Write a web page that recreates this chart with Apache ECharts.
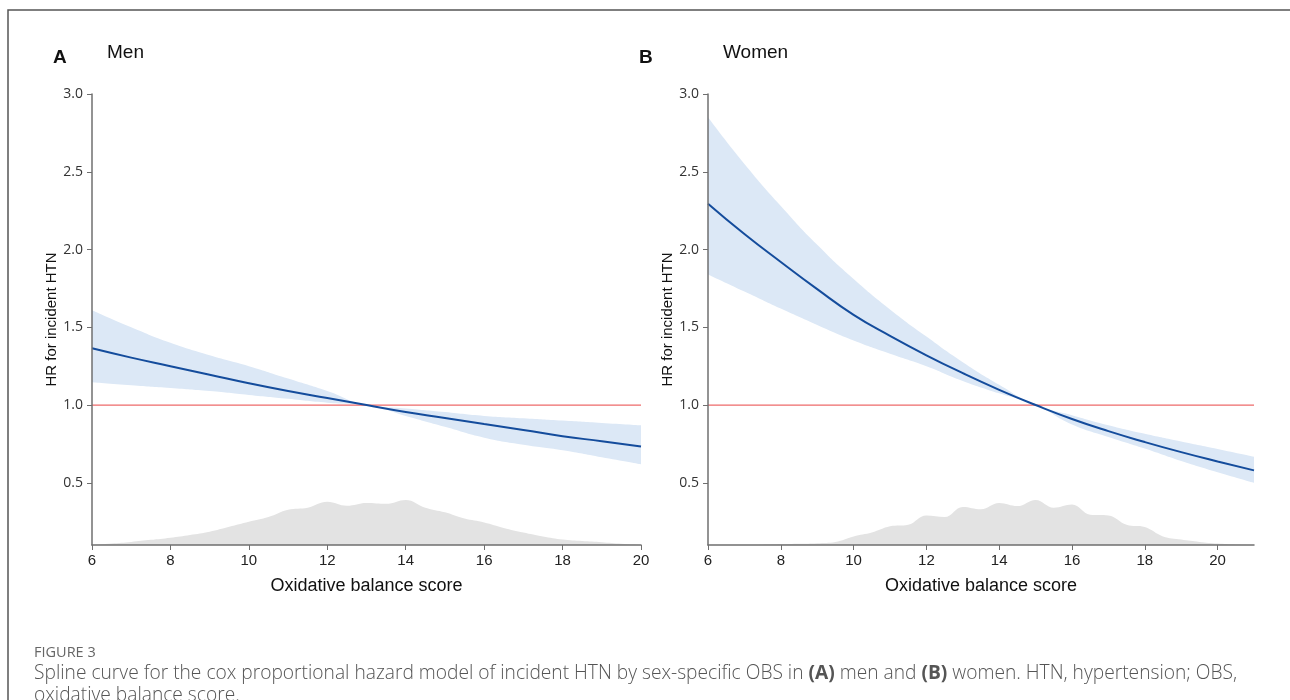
<!DOCTYPE html>
<html>
<head>
<meta charset="utf-8">
<title>Figure 3</title>
<script src="https://cdn.jsdelivr.net/npm/echarts@6/dist/echarts.min.js"></script>
<style>
  html, body { margin: 0; padding: 0; background: #fff; }
  #main { width: 1290px; height: 700px; }
</style>
</head>
<body>
<div id="main"></div>
<script>
// values
var refHr = 1.0;
var hrTicks = [0.5, 1.0, 1.5, 2.0, 2.5, 3.0];
var obsTicks = [6, 8, 10, 12, 14, 16, 18, 20];

// (A) men
var menObs = [6, 7, 8, 9, 10, 11, 12, 13, 14, 15, 16, 17, 18, 19, 20];
var menHr = [1.365, 1.305, 1.25, 1.195, 1.14, 1.09, 1.045, 1.0, 0.955, 0.917, 0.878, 0.84, 0.80, 0.767, 0.733];
var menUpper = [1.61, 1.50, 1.40, 1.32, 1.25, 1.17, 1.09, 1.0, 0.978, 0.955, 0.93, 0.915, 0.90, 0.885, 0.87];
var menLower = [1.147, 1.128, 1.11, 1.09, 1.065, 1.04, 1.015, 1.0, 0.93, 0.86, 0.79, 0.745, 0.71, 0.665, 0.62];
var menDensObs = [6, 6.5, 7, 7.5, 8, 8.5, 9, 9.5, 10, 10.5, 11, 11.5, 12, 12.5, 13, 13.5, 14, 14.5, 15, 15.5, 16, 16.5, 17, 17.5, 18, 18.5, 19, 19.5, 20];
var menDens = [0.1, 0.11, 0.12, 0.133, 0.147, 0.165, 0.186, 0.218, 0.25, 0.28, 0.327, 0.34, 0.378, 0.352, 0.37, 0.365, 0.39, 0.34, 0.31, 0.27, 0.245, 0.21, 0.18, 0.155, 0.135, 0.125, 0.118, 0.108, 0.1];

// (B) women
var womenObs = [6, 7, 8, 9, 10, 11, 12, 13, 14, 15, 16, 17, 18, 19, 20, 21];
var womenHr = [2.295, 2.10, 1.92, 1.745, 1.58, 1.445, 1.32, 1.205, 1.098, 1.0, 0.91, 0.832, 0.762, 0.697, 0.637, 0.58];
var womenUpper = [2.85, 2.55, 2.28, 2.03, 1.81, 1.615, 1.44, 1.275, 1.13, 1.0, 0.935, 0.87, 0.815, 0.765, 0.717, 0.667];
var womenLower = [1.84, 1.73, 1.62, 1.515, 1.415, 1.33, 1.25, 1.155, 1.075, 1.0, 0.875, 0.795, 0.72, 0.64, 0.568, 0.5];
var womenDensObs = [6, 6.5, 7, 7.5, 8, 8.5, 9, 9.5, 10, 10.5, 11, 11.5, 12, 12.5, 13, 13.5, 14, 14.5, 15, 15.5, 16, 16.5, 17, 17.5, 18, 18.5, 19, 19.5, 20, 20.5, 21];
var womenDens = [0.1, 0.1, 0.1, 0.102, 0.106, 0.108, 0.112, 0.12, 0.155, 0.18, 0.22, 0.23, 0.29, 0.28, 0.345, 0.33, 0.37, 0.35, 0.39, 0.34, 0.36, 0.295, 0.29, 0.23, 0.215, 0.155, 0.135, 0.12, 0.11, 0.104, 0.1];

function pairs(xs, ys) {
    return xs.map(function (x, i) { return [x, ys[i]]; });
}

var axisColor = '#6f6f6f';

function xAxisFor(idx, max) {
    return {
        type: 'value', gridIndex: idx, min: 6, max: max, z: 10,
        axisLine: { onZero: false, lineStyle: { color: axisColor, width: 1.5 } },
        axisTick: { customValues: obsTicks, length: 5, lineStyle: { color: axisColor } },
        axisLabel: { customValues: obsTicks, fontSize: 15, color: '#222', margin: 8, fontFamily: 'Liberation Sans' },
        splitLine: { show: false },
        name: 'Oxidative balance score', nameLocation: 'middle', nameGap: 32,
        nameTextStyle: { fontSize: 18, color: '#111', fontFamily: 'Liberation Sans' }
    };
}
function yAxisFor(idx) {
    return {
        type: 'value', gridIndex: idx, min: 0.1, max: 3.0, z: 10,
        axisLine: { show: true, lineStyle: { color: axisColor, width: 1.5 } },
        axisTick: { show: true, customValues: hrTicks, length: 5, lineStyle: { color: axisColor } },
        axisLabel: {
            customValues: hrTicks, fontSize: 14, color: '#333', margin: 9, fontFamily: 'Open Sans',
            formatter: function (v) { return v.toFixed(1); }
        },
        splitLine: { show: false },
        name: 'HR for incident HTN', nameLocation: 'middle', nameGap: 29,
        nameTextStyle: { fontSize: 15, color: '#111', fontFamily: 'Liberation Sans' }
    };
}

function panelSeries(idx, obs, hr, lo, hi, densObs, dens, xMax) {
    var base = { type: 'line', xAxisIndex: idx, yAxisIndex: idx, symbol: 'none', silent: true };
    return [
        // CI band: upper bound filled blue, lower bound masked white
        Object.assign({}, base, {
            data: pairs(obs, hi), smooth: true, lineStyle: { width: 0 },
            areaStyle: { color: '#dce8f6', opacity: 1, origin: 'start' }, z: 1
        }),
        Object.assign({}, base, {
            data: pairs(obs, lo), smooth: true, lineStyle: { width: 0 },
            areaStyle: { color: '#ffffff', opacity: 1, origin: 'start' }, z: 2
        }),
        // distribution of OBS
        Object.assign({}, base, {
            data: pairs(densObs, dens), smooth: 0.4, lineStyle: { width: 0 },
            areaStyle: { color: '#e3e3e3', opacity: 1, origin: 'start' }, z: 3
        }),
        // reference HR = 1
        Object.assign({}, base, {
            data: [[6, refHr], [xMax, refHr]], lineStyle: { color: '#ee6a6a', width: 1.2 }, z: 4
        }),
        // spline estimate
        Object.assign({}, base, {
            data: pairs(obs, hr), smooth: true, lineStyle: { color: '#144c9c', width: 2 }, z: 5
        })
    ];
}

var chart = echarts.init(document.getElementById('main'));
var titleFont = { fontSize: 19, color: '#111', fontFamily: 'Liberation Sans' };
var option = {
    backgroundColor: '#fff',
    animation: false,
    title: [
        { text: 'A', left: 53, top: 48, padding: 0, textStyle: Object.assign({ fontWeight: 'bold' }, titleFont) },
        { text: 'Men', left: 107, top: 43, padding: 0, textStyle: Object.assign({ fontWeight: 'normal' }, titleFont) },
        { text: 'B', left: 639, top: 48, padding: 0, textStyle: Object.assign({ fontWeight: 'bold' }, titleFont) },
        { text: 'Women', left: 723, top: 43, padding: 0, textStyle: Object.assign({ fontWeight: 'normal' }, titleFont) }
    ],
    grid: [
        { left: 92, top: 94, width: 549, height: 451 },
        { left: 708, top: 94, width: 546, height: 451 }
    ],
    xAxis: [xAxisFor(0, 20), xAxisFor(1, 21)],
    yAxis: [yAxisFor(0), yAxisFor(1)],
    series: panelSeries(0, menObs, menHr, menLower, menUpper, menDensObs, menDens, 20)
        .concat(panelSeries(1, womenObs, womenHr, womenLower, womenUpper, womenDensObs, womenDens, 21)),
    graphic: [
        {
            type: 'rect', shape: { x: 8, y: 10, width: 1400, height: 800 },
            style: { fill: 'none', stroke: '#555', lineWidth: 1.5 }, silent: true
        },
        {
            type: 'text', left: 34, top: 645,
            style: { text: 'FIGURE 3', fontSize: 14.5, fill: '#666', fontFamily: 'Open Sans' }
        },
        {
            type: 'text', left: 34, top: 663,
            style: {
                text: 'Spline curve for the cox proportional hazard model of incident HTN by sex-specific OBS in {b|(A)} men and {b|(B)} women. HTN, hypertension; OBS,\noxidative balance score.',
                fontSize: 19.2, lineHeight: 22, fill: '#555', fontFamily: 'Open Sans', fontWeight: 300,
                rich: { b: { fontWeight: 'bold', fontSize: 19.2, fill: '#555', fontFamily: 'Open Sans' } }
            }
        }
    ]
};
chart.setOption(option);
</script>
</body>
</html>
